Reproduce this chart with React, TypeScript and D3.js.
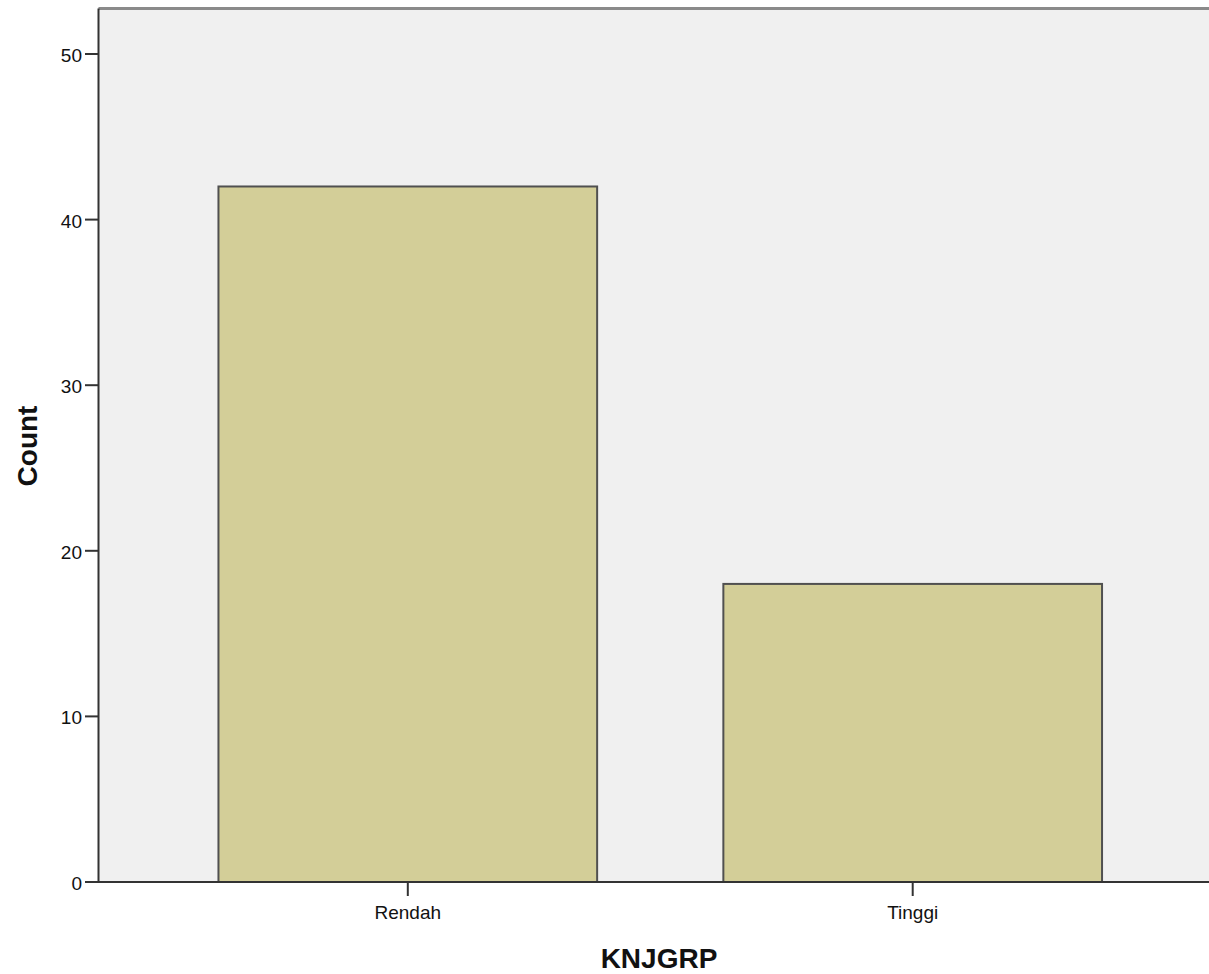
import React from "react";
import * as d3 from "d3";

const categories = ["Rendah", "Tinggi"];
const counts = [42, 18];
const yTicks = [0, 10, 20, 30, 40, 50];
const xTitle = "KNJGRP";
const yTitle = "Count";

const W = 1209;
const H = 974;
const left = 98.5;
const top = 8.5;
const bottom = 882;
const right = 1222;

export default function App() {
  const y = d3.scaleLinear().domain([0, 50]).range([bottom, 54]);
  const x = d3
    .scaleBand<string>()
    .domain(categories)
    .range([left, right])
    .paddingInner(0.25)
    .paddingOuter(0.2376);
  const font = "'Liberation Sans', Arial, sans-serif";
  return (
    <svg
      width={W}
      height={H}
      style={{ position: "absolute", left: 0, top: 0, background: "#fff" }}
    >
      <rect x={left} y={top} width={W - left + 10} height={bottom - top} fill="#f0f0f0" />
      <line x1={left} x2={W + 5} y1={top} y2={top} stroke="#8a8a8a" strokeWidth={3} />
      {categories.map((c, i) => (
        <rect
          key={c}
          x={x(c)!}
          y={y(counts[i])}
          width={x.bandwidth()}
          height={bottom - y(counts[i])}
          fill="#d3ce98"
          stroke="#505050"
          strokeWidth={2}
        />
      ))}
      <line x1={left} x2={left} y1={top} y2={bottom} stroke="#333" strokeWidth={2} />
      <line x1={left - 1} x2={W + 5} y1={bottom} y2={bottom} stroke="#333" strokeWidth={2} />
      {yTicks.map((t) => (
        <g key={t}>
          <line x1={85} x2={left} y1={y(t)} y2={y(t)} stroke="#333" strokeWidth={2} />
          <text
            x={82}
            y={y(t) + 3}
            textAnchor="end"
            dominantBaseline="middle"
            fontFamily={font}
            fontSize={19}
            fill="#111"
          >
            {t}
          </text>
        </g>
      ))}
      {categories.map((c) => {
        const cx = x(c)! + x.bandwidth() / 2;
        return (
          <g key={c}>
            <line x1={cx} x2={cx} y1={bottom} y2={896} stroke="#333" strokeWidth={2} />
            <text x={cx} y={919} textAnchor="middle" fontFamily={font} fontSize={19} fill="#111">
              {c}
            </text>
          </g>
        );
      })}
      <text
        x={659}
        y={968}
        textAnchor="middle"
        fontFamily={font}
        fontSize={28}
        fontWeight="bold"
        fill="#111"
      >
        {xTitle}
      </text>
      <text
        transform={`translate(37,446) rotate(-90)`}
        textAnchor="middle"
        fontFamily={font}
        fontSize={28}
        fontWeight="bold"
        fill="#111"
      >
        {yTitle}
      </text>
    </svg>
  );
}
